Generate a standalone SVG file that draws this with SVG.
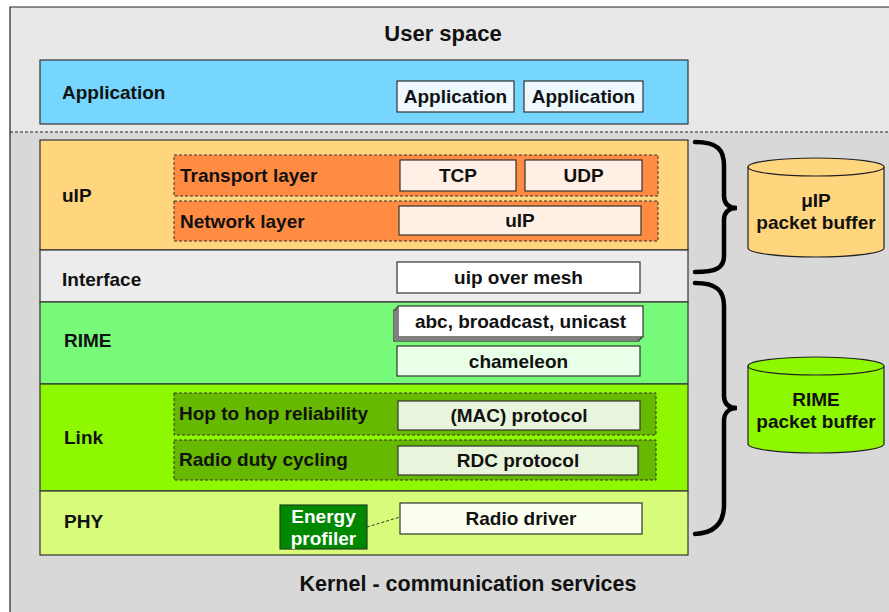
<svg xmlns="http://www.w3.org/2000/svg" width="889" height="612" viewBox="0 0 889 612">
<style>
text{font-family:"Liberation Sans",Arial,sans-serif;font-weight:bold;fill:#111}
.lbl{font-size:19px}
.c{text-anchor:middle}
.band{stroke:#333;stroke-width:1.2}
.box{stroke:#333;stroke-width:1.2}
.dash{stroke:#333;stroke-width:1;stroke-dasharray:3,2}
.brace{fill:none;stroke:#000;stroke-width:4.5;stroke-linecap:round}
</style>
<rect x="0" y="0" width="889" height="612" fill="#fff"/>
<rect x="10" y="7" width="879" height="125" fill="#e8e8e8"/>
<rect x="10" y="132" width="879" height="480" fill="#d8d8d8"/>
<path d="M10,612 V7 H889" fill="none" stroke="#222" stroke-width="1.2"/>
<line x1="10" y1="132" x2="889" y2="132" stroke="#222" stroke-width="1" stroke-dasharray="3,2"/>
<text x="443" y="41" class="c" font-size="22">User  space</text>
<text x="468" y="591" class="c" font-size="21.5">Kernel - communication services</text>

<g id="application">
<rect x="40" y="60" width="648" height="64" fill="#76d6fd" class="band"/>
<text x="62" y="99" class="lbl">Application</text>
<rect x="397" y="81" width="117" height="31" fill="#eef8ff" class="box"/>
<text x="455.5" y="103" class="c lbl">Application</text>
<rect x="524" y="81" width="119" height="31" fill="#eef8ff" class="box"/>
<text x="583.5" y="103" class="c lbl">Application</text>
</g>

<g id="uip">
<rect x="40" y="140" width="648" height="110" fill="#ffd57e" class="band"/>
<text x="62" y="202" class="lbl">uIP</text>
<rect x="174" y="155" width="484" height="41" fill="#ff8c42" class="dash"/>
<text x="180" y="182" class="lbl">Transport layer</text>
<rect x="400" y="160" width="116" height="31" fill="#ffefe4" class="box"/>
<text x="458" y="182" class="c lbl">TCP</text>
<rect x="525" y="160" width="117" height="31" fill="#ffefe4" class="box"/>
<text x="583.5" y="182" class="c lbl">UDP</text>
<rect x="174" y="201" width="484" height="40" fill="#ff8c42" class="dash"/>
<text x="180" y="228" class="lbl">Network layer</text>
<rect x="399" y="206" width="242" height="29" fill="#ffefe4" class="box"/>
<text x="520" y="227" class="c lbl">uIP</text>
</g>

<g id="interface">
<rect x="40" y="250" width="648" height="52" fill="#ececec" class="band"/>
<text x="62" y="286" class="lbl">Interface</text>
<rect x="397" y="262" width="243" height="31" fill="#ffffff" class="box"/>
<text x="518.5" y="284" class="c lbl">uip over mesh</text>
</g>

<g id="rime">
<rect x="40" y="302" width="648" height="82" fill="#77f97a" class="band"/>
<text x="64" y="347" class="lbl">RIME</text>
<rect x="394" y="310" width="245" height="31" fill="#f4f4f4" class="box"/>
<rect x="396" y="308" width="245" height="31" fill="#f8f8f8" class="box"/>
<rect x="398" y="306" width="245" height="31" fill="#ffffff" class="box"/>
<text x="520.5" y="328" class="c lbl">abc, broadcast, unicast</text>
<rect x="397" y="346" width="243" height="30" fill="#e8ffe8" class="box"/>
<text x="518.5" y="368" class="c lbl">chameleon</text>
</g>

<g id="link">
<rect x="40" y="384" width="648" height="107" fill="#8ef800" class="band"/>
<text x="64" y="444" class="lbl">Link</text>
<rect x="174" y="393" width="482" height="42" fill="#66b800" class="dash"/>
<text x="179" y="420" class="lbl">Hop to hop reliability</text>
<rect x="398" y="401" width="242" height="29" fill="#e8f5dc" class="box"/>
<text x="519" y="422" class="c lbl">(MAC) protocol</text>
<rect x="174" y="440" width="482" height="40" fill="#66b800" class="dash"/>
<text x="179" y="466" class="lbl">Radio duty cycling</text>
<rect x="398" y="446" width="240" height="29" fill="#e8f5dc" class="box"/>
<text x="518" y="467" class="c lbl">RDC protocol</text>
</g>

<g id="phy">
<rect x="40" y="491" width="648" height="64" fill="#d8fb7a" class="band"/>
<text x="64" y="528" class="lbl">PHY</text>
<rect x="400" y="503" width="242" height="31" fill="#fbfff0" class="box"/>
<text x="521" y="525" class="c lbl">Radio driver</text>
</g>

<g id="energy-profiler">
<rect x="280" y="505" width="87" height="44" fill="#008800" stroke="#224422" stroke-width="1.2"/>
<text x="323.5" y="523" class="c lbl" style="fill:#fff">Energy</text>
<text x="323.5" y="545" class="c lbl" style="fill:#fff">profiler</text>
</g>

<g id="uip-buffer">
<path d="M748,167 V248 A68,9 0 0 0 884,248 V167" fill="#ffd57e" stroke="#222" stroke-width="1.2"/>
<ellipse cx="816" cy="167" rx="68" ry="9" fill="#ffd57e" stroke="#222" stroke-width="1.2"/>
<text x="816" y="207" class="c lbl">μIP</text>
<text x="816" y="229" class="c lbl">packet buffer</text>
</g>

<g id="rime-buffer">
<path d="M748,366 V444 A68,9 0 0 0 884,444 V366" fill="#8ef800" stroke="#222" stroke-width="1.2"/>
<ellipse cx="816" cy="366" rx="68" ry="9" fill="#8ef800" stroke="#222" stroke-width="1.2"/>
<text x="816" y="406" class="c lbl">RIME</text>
<text x="816" y="428" class="c lbl">packet buffer</text>
</g>

<g id="connectors">
<line x1="367" y1="527" x2="400" y2="517" stroke="#333" stroke-width="1" stroke-dasharray="3,2"/>
<path class="brace" d="M695,142 C718,142 724,150 724,166 L724,196 C724,204 729,208 737,208 C729,208 724,212 724,220 L724,256 C724,268 716,272 695,272"/>
<path class="brace" d="M695,283 C717,283 724,291 724,306 L724,396 C724,404 729,408 737,408 C729,408 724,413 724,421 L724,505 C724,524 714,533 695,534"/>
</g>
</svg>
